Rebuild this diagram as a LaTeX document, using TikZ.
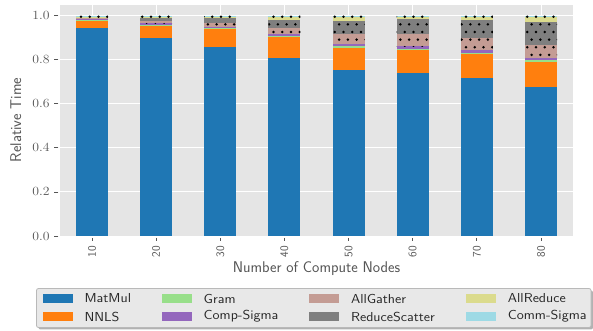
\documentclass[tikz,border=0pt]{standalone}
\usepackage{fontspec}
\usepackage{tikz}

\definecolor{cMatMul}{HTML}{1F77B4}
\definecolor{cNNLS}{HTML}{FF7F0E}
\definecolor{cGram}{HTML}{98DF8A}
\definecolor{cCompSigma}{HTML}{9467BD}
\definecolor{cAllGather}{HTML}{C49C94}
\definecolor{cReduceScatter}{HTML}{7F7F7F}
\definecolor{cAllReduce}{HTML}{DBDB8D}
\definecolor{cCommSigma}{HTML}{9EDAE5}
\definecolor{panelbg}{HTML}{E5E5E5}
\definecolor{ticktext}{HTML}{555555}
\definecolor{legendbg}{HTML}{E8E8E8}

\tikzset{
  gridline/.style={white, line width=0.9pt},
  tickmark/.style={ticktext, line width=0.8pt},
  yticklabel/.style={text=ticktext, inner sep=0pt, xscale=1.1,
    font=\fontsize{12.5}{15}\selectfont},
  xticklabel/.style={text=ticktext, inner sep=0pt,
    font=\sffamily\fontsize{11.5}{14}\selectfont},
  axislabel/.style={text=ticktext, inner sep=0pt,
    font=\sffamily\fontsize{15.5}{18}\selectfont},
  legendtext/.style={text=black!85, inner sep=0pt, anchor=west, xscale=1.1,
    font=\sffamily\fontsize{13}{15}\selectfont},
}

\begin{document}
\begin{tikzpicture}[x=1pt,y=1pt]
\useasboundingbox[fill=white] (0,0) rectangle (593,331);

% Axes (one unit = one bar step, one unit = relative time 1)
\begin{scope}[shift={(92pt,95pt)}, x=64.14pt, y=220.3pt]
% Panel
\fill[panelbg] (-0.5,0) rectangle (7.5,1.05);

% Grid
\foreach \v in {0.2,0.4,0.6,0.8,1.0} {
    \draw[gridline] (-0.5,\v) -- (7.5,\v);
}
\foreach \i in {0,...,7} {
    \draw[gridline] (\i,0) -- (\i,1.05);
}

% Stacked bars: MatMul/NNLS/Gram/Comp-Sigma/AllGather/ReduceScatter/AllReduce, Comm-Sigma up to 1
\foreach \i/\va/\vb/\vc/\vd/\ve/\vf/\vg in {
    0/0.946/0.031/0.003/0.004/0.005/0.005/0.002,
    1/0.900/0.055/0.003/0.008/0.009/0.015/0.003,
    2/0.859/0.081/0.002/0.007/0.018/0.023/0.004,
    3/0.809/0.096/0.004/0.009/0.028/0.036/0.011,
    4/0.755/0.100/0.009/0.009/0.044/0.060/0.015,
    5/0.740/0.106/0.004/0.012/0.056/0.068/0.007,
    6/0.717/0.111/0.004/0.012/0.056/0.082/0.011,
    7/0.675/0.116/0.008/0.009/0.059/0.106/0.020} {
    \pgfmathsetmacro\ta{\va}
    \pgfmathsetmacro\tb{\ta+\vb}
    \pgfmathsetmacro\tc{\tb+\vc}
    \pgfmathsetmacro\td{\tc+\vd}
    \pgfmathsetmacro\te{\td+\ve}
    \pgfmathsetmacro\tf{\te+\vf}
    \pgfmathsetmacro\tg{\tf+\vg}
    \fill[cMatMul] (\i-0.25,0) rectangle (\i+0.25,\ta);
    \fill[cNNLS] (\i-0.25,\ta) rectangle (\i+0.25,\tb);
    \fill[cGram] (\i-0.25,\tb) rectangle (\i+0.25,\tc);
    \fill[cCompSigma] (\i-0.25,\tc) rectangle (\i+0.25,\td);
    \fill[cAllGather] (\i-0.25,\td) rectangle (\i+0.25,\te);
    \fill[cReduceScatter] (\i-0.25,\te) rectangle (\i+0.25,\tf);
    \fill[cAllReduce] (\i-0.25,\tf) rectangle (\i+0.25,\tg);
    \fill[cCommSigma] (\i-0.25,\tg) rectangle (\i+0.25,1);
    % dot hatch on the communication parts
    \begin{scope}
        \clip (\i-0.25,\td) rectangle (\i+0.25,1);
        \pgfmathtruncatemacro\mlo{floor((\i-0.4+0.1715)/0.13642)}
        \foreach \k in {0,...,6} {
            \foreach \m in {0,...,6} {
                \pgfmathsetmacro\xd{-0.1715+0.13642*(\mlo+\m)+0.06821*mod(\k,2)}
                \fill[black] (\xd,0.99546-0.034725*\k) circle (1.4pt);
            }
        }
    \end{scope}
}

% Ticks and tick labels
\foreach \v/\t [count=\n] in {0/0.0,0.2/0.2,0.4/0.4,0.6/0.6,0.8/0.8,1/1.0} {
    \draw[tickmark] (-0.5,\v) ++(-1.5pt,0) -- ++(-4pt,0);
    \node[yticklabel, anchor=east] (ytick\n) at ([xshift=-10pt]-0.5,\v) {\t};
}
\foreach \i/\t in {0/10,1/20,2/30,3/40,4/50,5/60,6/70,7/80} {
    \draw[tickmark] (\i,0) ++(0,-2pt) -- ++(0,-3pt);
    \node[xticklabel, rotate=90, anchor=east] (xtick\i) at ([yshift=-10pt]\i,0) {\t};
}

% Axis labels
\node[axislabel] (xlabel) at ([yshift=-32.5pt]3.5,0) {Number of Compute Nodes};
\node[axislabel, rotate=90] (ylabel) at ([xshift=-44.2pt]-0.5,0.5266) {Relative Time};
\end{scope}

% Legend
\fill[black, opacity=0.3, rounded corners=2pt] (38.5,1.5) rectangle (593,40.5);
\draw[legendbg!55!gray, fill=legendbg, rounded corners=2pt, line width=0.8pt] (36.5,3.5) rectangle (591,42.5);
\foreach \name/\col/\x/\y [count=\n] in {
    MatMul/cMatMul/42.9/32.5, NNLS/cNNLS/42.9/14.5,
    Gram/cGram/162.1/32.5, Comp-Sigma/cCompSigma/162.1/14.5,
    AllGather/cAllGather/309.4/32.5, ReduceScatter/cReduceScatter/309.4/14.5,
    AllReduce/cAllReduce/466.3/32.5, Comm-Sigma/cCommSigma/466.3/14.5} {
    \fill[\col] (\x,\y-4.5) rectangle ++(29.6,9);
    \node[legendtext] (leg\n) at (\x+41.4,\y) {\name};
}
\end{tikzpicture}
\end{document}
